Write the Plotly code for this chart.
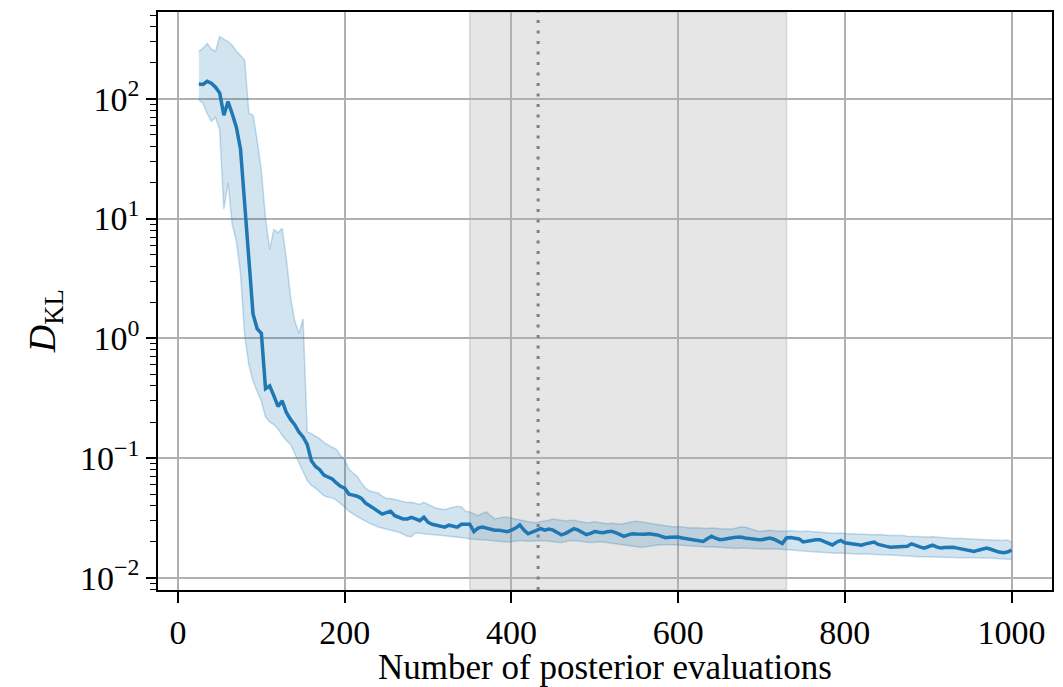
import plotly.graph_objects as go

# ---- data ----
n_evals = list(range(25, 1001, 5))

dkl_mean = [
    133, 132, 140, 135, 125, 112, 73, 95, 75, 58,
    38, 13, 4.7, 1.6, 1.2, 1.1, 0.38, 0.40, 0.33, 0.27,
    0.30, 0.24, 0.21, 0.19, 0.165, 0.15, 0.13, 0.095, 0.085, 0.08,
    0.072, 0.069, 0.067, 0.062, 0.058, 0.056, 0.05, 0.049, 0.048, 0.046,
    0.042, 0.04, 0.038, 0.036, 0.034, 0.035, 0.036, 0.033, 0.032, 0.031,
    0.031, 0.032, 0.031, 0.030, 0.032, 0.029, 0.028, 0.0275, 0.027, 0.0265,
    0.0275, 0.027, 0.0265, 0.028, 0.028, 0.028, 0.0243, 0.026, 0.0265, 0.026,
    0.0255, 0.025, 0.025, 0.0245, 0.0243, 0.025, 0.026, 0.0276, 0.025, 0.0233,
    0.024, 0.025, 0.0257, 0.025, 0.0255, 0.025, 0.024, 0.0228, 0.0235, 0.0245,
    0.0257, 0.025, 0.0238, 0.0229, 0.0235, 0.0243, 0.024, 0.0238, 0.0242, 0.0245,
    0.0238, 0.023, 0.0222, 0.0228, 0.0233, 0.0232, 0.023, 0.0231, 0.0233, 0.0232,
    0.0228, 0.0222, 0.0216, 0.0218, 0.022, 0.0219, 0.0215, 0.0212, 0.021, 0.0207,
    0.0204, 0.0201, 0.0212, 0.0222, 0.0214, 0.0208, 0.021, 0.0214, 0.0216, 0.0218,
    0.0219, 0.0215, 0.0212, 0.021, 0.0209, 0.0208, 0.0212, 0.0215, 0.021, 0.0203,
    0.0193, 0.0215, 0.0217, 0.0214, 0.0211, 0.0199, 0.0203, 0.0206, 0.0208, 0.0208,
    0.0202, 0.0195, 0.0188, 0.0198, 0.0205, 0.0196, 0.0193, 0.019, 0.0188, 0.0187,
    0.0192, 0.0197, 0.0199, 0.019, 0.0185, 0.0183, 0.018, 0.018, 0.0181, 0.018,
    0.0183, 0.0192, 0.0185, 0.0181, 0.0177, 0.0182, 0.0187, 0.0181, 0.0177, 0.0179,
    0.0181, 0.018, 0.0177, 0.0174, 0.017, 0.0168, 0.0166, 0.017, 0.0175, 0.0177,
    0.0173, 0.0168, 0.0164, 0.0162, 0.0164, 0.017,
]

dkl_upper = [
    248, 265, 290, 260, 250, 330, 315, 300, 280, 250,
    230, 210, 76, 73, 45, 25, 10, 5.5, 8.1, 7.6,
    8.3, 4.6, 2.2, 1.4, 1.1, 1.45, 0.165, 0.16, 0.152, 0.145,
    0.135, 0.128, 0.123, 0.118, 0.105, 0.097, 0.081, 0.075, 0.07, 0.062,
    0.056, 0.053, 0.052, 0.051, 0.048, 0.046, 0.046, 0.045, 0.044, 0.043,
    0.0425, 0.0427, 0.042, 0.041, 0.0427, 0.041, 0.039, 0.038, 0.0376, 0.037,
    0.038, 0.039, 0.0395, 0.039, 0.036, 0.0355, 0.034, 0.033, 0.0345, 0.0355,
    0.033, 0.031, 0.0315, 0.032, 0.032, 0.0315, 0.031, 0.0305, 0.0298, 0.0295,
    0.029, 0.029, 0.0293, 0.0295, 0.0302, 0.031, 0.0305, 0.03, 0.0298, 0.0301,
    0.0303, 0.0296, 0.029, 0.0288, 0.029, 0.0293, 0.029, 0.0286, 0.0283, 0.0285,
    0.0282, 0.028, 0.0284, 0.029, 0.0294, 0.0297, 0.0295, 0.029, 0.0286, 0.0282,
    0.0278, 0.0275, 0.027, 0.0266, 0.0265, 0.0268, 0.0266, 0.0262, 0.026, 0.0262,
    0.026, 0.0257, 0.0258, 0.026, 0.0258, 0.0257, 0.0255, 0.0256, 0.0256, 0.026,
    0.0265, 0.0265, 0.0258, 0.025, 0.0246, 0.0245, 0.0248, 0.025, 0.0247, 0.0245,
    0.0245, 0.0245, 0.0248, 0.0246, 0.0243, 0.0244, 0.0246, 0.0243, 0.0241, 0.024,
    0.0238, 0.0236, 0.0235, 0.0236, 0.0237, 0.0234, 0.0233, 0.0232, 0.0231, 0.0232,
    0.023, 0.0228, 0.0229, 0.023, 0.0228, 0.0226, 0.0226, 0.0226, 0.0227, 0.0225,
    0.0222, 0.0221, 0.0222, 0.022, 0.0219, 0.0219, 0.022, 0.0218, 0.0216, 0.0215,
    0.0214, 0.0213, 0.0214, 0.0212, 0.0211, 0.0211, 0.021, 0.0209, 0.0208, 0.0207,
    0.0206, 0.0207, 0.0205, 0.0205, 0.0207, 0.0199,
]

dkl_lower = [
    98, 92, 75, 65, 70, 55, 12, 20, 9, 6.5,
    3.5, 1.05, 0.6, 0.44, 0.36, 0.3, 0.22, 0.2, 0.19, 0.175,
    0.155, 0.14, 0.13, 0.11, 0.092, 0.077, 0.065, 0.059, 0.056, 0.052,
    0.0485, 0.047, 0.0465, 0.0445, 0.042, 0.039, 0.036, 0.034, 0.0325, 0.031,
    0.0295, 0.0285, 0.0276, 0.0265, 0.026, 0.0255, 0.0248, 0.0243, 0.024, 0.0232,
    0.0222, 0.022, 0.0238, 0.0235, 0.0232, 0.0231, 0.023, 0.0228, 0.0225, 0.0224,
    0.0222, 0.022, 0.0219, 0.0218, 0.0215, 0.0211, 0.021, 0.0211, 0.021, 0.0207,
    0.0205, 0.0203, 0.0202, 0.02, 0.0199, 0.02, 0.0203, 0.0205, 0.0204, 0.0202,
    0.0203, 0.0205, 0.0205, 0.0204, 0.0203, 0.02, 0.0198, 0.0197, 0.02, 0.0204,
    0.0205, 0.0203, 0.02, 0.0198, 0.0197, 0.0198, 0.02, 0.0199, 0.0197, 0.0195,
    0.0192, 0.019, 0.0188, 0.0186, 0.0184, 0.0182, 0.018, 0.0181, 0.0184, 0.0186,
    0.0188, 0.0189, 0.0188, 0.0189, 0.0189, 0.0188, 0.0186, 0.0184, 0.0183, 0.0182,
    0.0181, 0.018, 0.0181, 0.0182, 0.0181, 0.018, 0.0178, 0.0176, 0.0175, 0.0176,
    0.0177, 0.0177, 0.0176, 0.0175, 0.0175, 0.0174, 0.0175, 0.0176, 0.0175, 0.0174,
    0.0173, 0.0174, 0.0172, 0.017, 0.0168, 0.0167, 0.0166, 0.0165, 0.0163, 0.0162,
    0.0162, 0.0161, 0.016, 0.016, 0.0161, 0.016, 0.0159, 0.0159, 0.0158, 0.0159,
    0.0158, 0.0157, 0.0156, 0.0156, 0.0155, 0.0155, 0.0155, 0.0154, 0.0153, 0.0152,
    0.0153, 0.0152, 0.0151, 0.015, 0.015, 0.015, 0.0149, 0.0149, 0.0148, 0.0148,
    0.0149, 0.0148, 0.0147, 0.0148, 0.0148, 0.0148, 0.0147, 0.0146, 0.0146, 0.0147,
    0.0146, 0.0145, 0.0145, 0.0145, 0.0143, 0.0142,
]

span_start, span_end = 350, 730
marker_x = 432

x_tickvals = [0, 200, 400, 600, 800, 1000]
y_tickvals = [0.01, 0.1, 1, 10, 100]
y_ticktext = ["10<sup>\u22122</sup>", "10<sup>\u22121</sup>", "10<sup>0</sup>",
              "10<sup>1</sup>", "10<sup>2</sup>"]

# minor log ticks (2..9 within each decade)
minor_vals = []
for dec in [0.001, 0.01, 0.1, 1, 10, 100]:
    for m in range(2, 10):
        minor_vals.append(m * dec)

FONT = "Liberation Serif"
BLUE = "#1f77b4"

fig = go.Figure()

fig.add_trace(go.Scatter(
    x=n_evals, y=dkl_lower, mode="lines",
    line=dict(color="rgba(31,119,180,0.25)", width=1.5),
    showlegend=False, hoverinfo="skip"))
fig.add_trace(go.Scatter(
    x=n_evals, y=dkl_upper, mode="lines", fill="tonexty",
    fillcolor="rgba(31,119,180,0.2)",
    line=dict(color="rgba(31,119,180,0.25)", width=1.5),
    showlegend=False, hoverinfo="skip"))
fig.add_trace(go.Scatter(
    x=n_evals, y=dkl_mean, mode="lines",
    line=dict(color=BLUE, width=3.5), showlegend=False))

fig.add_shape(type="rect", xref="x", yref="paper",
              x0=span_start, x1=span_end, y0=0, y1=1,
              fillcolor="rgba(128,128,128,0.2)",
              line=dict(color="rgba(128,128,128,0.25)", width=1.5),
              layer="below")
fig.add_shape(type="line", xref="x", yref="paper",
              x0=marker_x, x1=marker_x, y0=0, y1=1,
              line=dict(color="gray", width=3, dash="3px,7.5px"),
              layer="above")

# y-axis label as annotation for precise placement
fig.add_annotation(
    text="<i>D</i><sub>KL</sub>", textangle=-90,
    xref="paper", yref="paper", x=0, y=0.465,
    xanchor="center", yanchor="middle", xshift=-113, showarrow=False,
    font=dict(family=FONT, size=38, color="black"))

fig.update_layout(
    width=1055, height=679,
    margin=dict(l=150, r=11, t=4, b=97),
    paper_bgcolor="white", plot_bgcolor="white",
    font=dict(family=FONT, size=34, color="black"),
    showlegend=False,
)

fig.update_xaxes(
    range=[-24, 1048.5],
    tickvals=x_tickvals,
    showgrid=True, gridcolor="#b0b0b0", gridwidth=1.5,
    showline=True, linecolor="black", linewidth=1.5, mirror=True,
    ticks="outside", ticklen=11, tickwidth=1.5, tickcolor="black",
    zeroline=False, automargin=False,
    title=dict(text="Number of posterior evaluations", font=dict(size=35), standoff=0),
    tickfont=dict(size=34),
)
fig.update_yaxes(
    type="log",
    range=[-2.102, 2.725],
    tickvals=y_tickvals, ticktext=y_ticktext,
    showgrid=True, gridcolor="#b0b0b0", gridwidth=1.5,
    showline=True, linecolor="black", linewidth=1.5, mirror=True,
    ticks="outside", ticklen=10, tickwidth=1.5, tickcolor="black",
    minor=dict(ticks="outside", ticklen=6, tickwidth=1, tickcolor="black",
               tickmode="array", tickvals=minor_vals, showgrid=False),
    zeroline=False, automargin=False,
    tickfont=dict(size=34),
)

fig.write_html("out.html")
